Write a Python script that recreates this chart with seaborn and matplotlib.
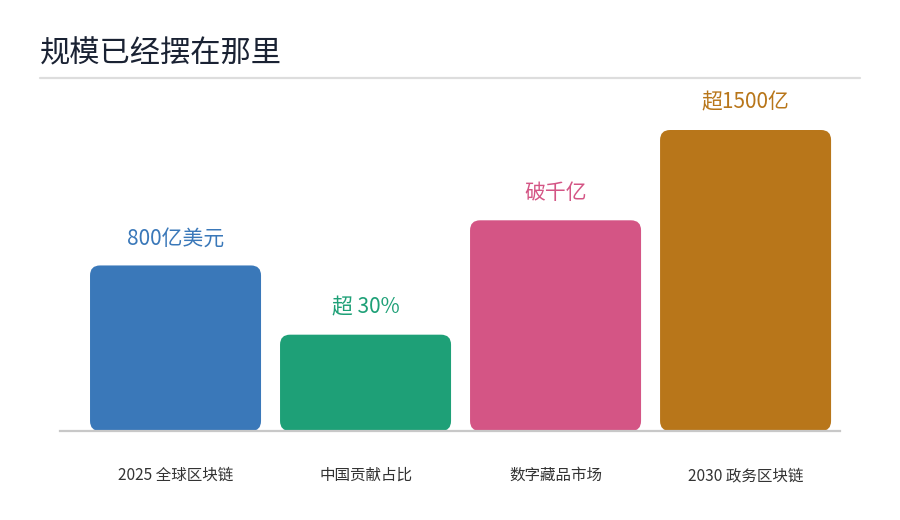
import matplotlib
matplotlib.use("Agg")
import pandas as pd
import seaborn as sns
from matplotlib import pyplot as plt
from matplotlib.patches import FancyBboxPatch
from matplotlib.lines import Line2D

# データ
categories = ["2025 全球区块链", "中国贡献占比", "数字藏品市场", "2030 政务区块链"]
bar_heights = [55, 32, 70, 100]  # 見た目の相対的な高さ
value_labels = ["800亿美元", "超 30%", "破千亿", "超1500亿"]
colors = ["#3a78b9", "#1ea077", "#d45585", "#b8761a"]
title = "规模已经摆在那里"

df = pd.DataFrame({"category": categories, "height": bar_heights})

sns.set_theme(style="white")
plt.rcParams["font.family"] = ["Noto Sans CJK SC", "DejaVu Sans"]

fig = plt.figure(figsize=(9, 5.2), dpi=100)
ax = fig.add_axes([60 / 900, 1 - 431 / 520, 780 / 900, (431 - 90) / 520])

sns.barplot(
    data=df, x="category", y="height", hue="category",
    palette=colors, legend=False, width=0.9, ax=ax, saturation=1,
)

ax.set_xlim(-0.608, 3.497)
ax.set_ylim(0, (431 - 90) / 3.01)

# 角丸バーに置き換え
fig.canvas.draw()
px_x = ax.transData.transform((1, 0))[0] - ax.transData.transform((0, 0))[0]
px_y = ax.transData.transform((0, 1))[1] - ax.transData.transform((0, 0))[1]
radius_px = 10
rounding = radius_px / px_x
aspect = px_x / px_y
for patch, color in zip(list(ax.patches), colors):
    x0, y0 = patch.get_x(), patch.get_y()
    w, h = patch.get_width(), patch.get_height()
    patch.remove()
    ax.add_patch(FancyBboxPatch(
        (x0, y0), w, h,
        boxstyle=f"round,pad=0,rounding_size={rounding}",
        mutation_aspect=aspect, facecolor=color, edgecolor="none",
    ))

# 値ラベル
for i, (h, lab, color) in enumerate(zip(bar_heights, value_labels, colors)):
    ax.annotate(lab, (i, h), xytext=(0, 19.5), textcoords="offset points",
                ha="center", va="center", fontsize=15, color=color)

# 軸の装飾
for side in ["top", "right", "left"]:
    ax.spines[side].set_visible(False)
ax.spines["bottom"].set_color("#c8c8c8")
ax.spines["bottom"].set_linewidth(1.6)
ax.set_yticks([])
ax.set_xlabel("")
ax.set_ylabel("")
ax.tick_params(axis="x", length=0, pad=26, labelsize=11.2, labelcolor="#333333")

# タイトルと下線
fig.text(40 / 900, 1 - 54 / 520, title, fontsize=21.8, color="#1a2233",
         ha="left", va="center")
fig.add_artist(Line2D([40 / 900, 860 / 900], [1 - 78 / 520, 1 - 78 / 520],
                      color="#dddddd", linewidth=1.6))

fig.savefig("out.png", dpi=100, facecolor="white")
